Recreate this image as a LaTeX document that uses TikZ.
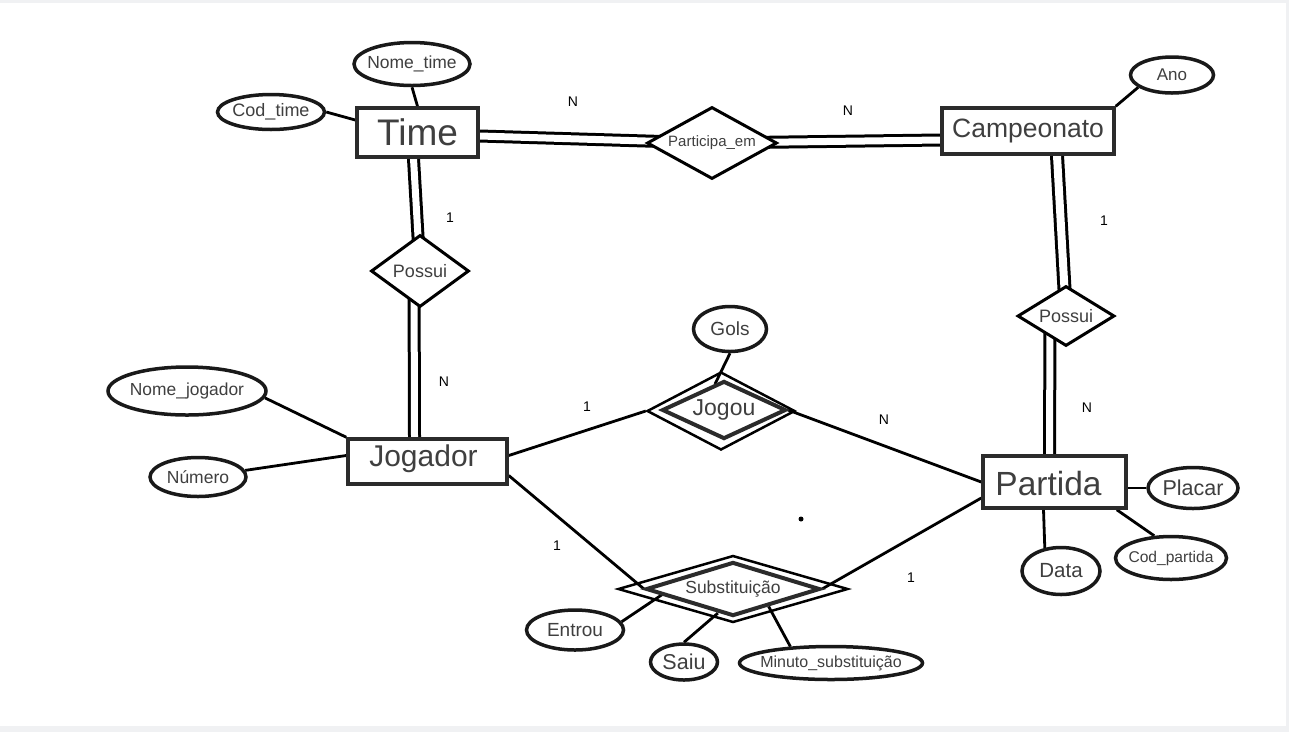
\documentclass[tikz,border=0pt]{standalone}
\usepackage{fontspec}
\setmainfont{Liberation Sans}
\usetikzlibrary{shapes.geometric,backgrounds,calc}
\definecolor{txt}{HTML}{3F3F3F}
\definecolor{edge}{HTML}{2B2B2B}
\definecolor{bgband}{HTML}{F0F1F3}
\begin{document}
\begin{tikzpicture}[x=1pt,y=-1pt,
  fs/.style={font=\fontsize{#1}{#1}\selectfont},
  ent/.style={rectangle, draw=edge, line width=3.5pt, fill=white, inner sep=0pt, text=txt},
  att/.style={ellipse, draw=black!90, line width=3.5pt, fill=white, inner sep=0pt},
  rel/.style={diamond, draw=black, line width=3pt, fill=white, inner sep=0pt},
  relout/.style={diamond, draw=black, line width=2.5pt, inner sep=0pt},
  relin/.style={diamond, draw=edge, line width=4pt, fill=white, inner sep=0pt},
  tl/.style={text=txt, fs=#1},
  con/.style={draw=black, line width=2.8pt},
  dbl/.style={draw=black, line width=3pt, double=white, double distance=7pt},
  card/.style={fs=14, text=black, inner sep=0pt}]
\useasboundingbox (0,0) rectangle (1289,732);

% entities
\node[ent, minimum width=121pt, minimum height=49pt, fs=37] (Time) at (417.5,132.5) {Time};
\node[ent, minimum width=172pt, minimum height=46pt, fs=26.5] (Campeo) at (1028,131) {Campeonato};
\node[ent, minimum width=159pt, minimum height=45pt] (Jogador) at (427.5,461.5) {};
\node[tl=30] (JogadorT) at (423.5,459) {Jogador};
\node[ent, minimum width=143pt, minimum height=52pt] (Partida) at (1054.5,482) {};
\node[tl=33.5] (PartidaT) at (1048.5,484) {Partida};

% relationships
\node[rel, minimum width=130pt, minimum height=72pt, label={[tl=15]center:Participa\_em}] (Part) at (712,143) {};
\node[rel, minimum width=98pt, minimum height=72pt, label={[tl=18]center:Possui}] (PossuiT) at (420,271) {};
\node[rel, minimum width=97pt, minimum height=60pt, label={[tl=18]center:Possui}] (PossuiC) at (1066,316) {};
\node[relout, minimum width=148pt, minimum height=78pt] (JogouO) at (721,411) {};
\node[relin, minimum width=124pt, minimum height=58pt, label={[tl=23]center:Jogou}] (Jogou) at (724,410) {};
\node[relout, minimum width=230pt, minimum height=67pt] (SubstO) at (733,589) {};
\node[relin, minimum width=174pt, minimum height=54pt, label={[tl=17.5]center:Substituição}] (Subst) at (733,589) {};

% attributes
\node[att, minimum width=116pt, minimum height=43pt, label={[tl=17.5]center:Nome\_time}] (Nomet) at (412,64) {};
\node[att, minimum width=107pt, minimum height=35pt, label={[tl=18]center:Cod\_time}] (Codt) at (271,112) {};
\node[att, minimum width=83pt, minimum height=36pt, label={[tl=17]center:Ano}] (Ano) at (1172,75) {};
\node[att, minimum width=73pt, minimum height=45pt, label={[tl=19]center:Gols}] (Gols) at (730,329) {};
\node[att, minimum width=158pt, minimum height=48pt, label={[tl=17.4]center:Nome\_jogador}] (NomeJ) at (187,391) {};
\node[att, minimum width=96pt, minimum height=39pt, label={[tl=17.5]center:Número}] (Numero) at (198,477) {};
\node[att, minimum width=90pt, minimum height=41pt, label={[tl=21.5]center:Placar}] (Placar) at (1193,488) {};
\node[att, minimum width=111pt, minimum height=43pt, label={[tl=15.6]center:Cod\_partida}] (Codp) at (1171,558) {};
\node[att, minimum width=78pt, minimum height=47pt, label={[tl=20.5]center:Data}] (Data) at (1061,571) {};
\node[att, minimum width=97pt, minimum height=40pt, label={[tl=19]center:Entrou}] (Entrou) at (575,630) {};
\node[att, minimum width=67pt, minimum height=36pt, label={[tl=21.5]center:Saiu}] (Saiu) at (684,662) {};
\node[att, minimum width=183pt, minimum height=33pt, label={[tl=16]center:Minuto\_substituição}] (Minuto) at (831,663) {};

% cardinalities
\node[card] (c1) at (573,102) {N};
\node[card] (c2) at (848,111) {N};
\node[card] (c3) at (450,218) {1};
\node[card] (c4) at (444,382) {N};
\node[card] (c5) at (1104,221) {1};
\node[card] (c6) at (1087,408) {N};
\node[card] (c7) at (587,407) {1};
\node[card] (c8) at (884,420) {N};
\node[card] (c9) at (557,546) {1};
\node[card] (c10) at (911,578) {1};
\node[circle, fill=black, minimum size=5pt, inner sep=0pt] (dot) at (801,519) {};

\begin{pgfonlayer}{background}
  \fill[bgband] (0,0) rectangle (1289,732);
  \fill[white] (0,3) rectangle (1286,726);
  % double connectors
  \draw[dbl] ([yshift=-3.5pt]Time.east) -- (Part.center);
  \draw[dbl] (Part.center) -- ([yshift=-9pt]Campeo.west);
  \draw[dbl] ([xshift=-4pt]Time.south) -- (PossuiT.center);
  \draw[dbl] ([xshift=-6pt]PossuiT.center) -- ([xshift=-13pt]Jogador.north);
  \draw[dbl, double distance=8pt] ([xshift=29pt]Campeo.south) -- (PossuiC.center);
  \draw[dbl] ([xshift=-16pt]PossuiC.center) -- ([xshift=-5pt]Partida.north);
  % single connectors
  \draw[con] (Codt.east) -- ([yshift=12.5pt]Time.west);
  \draw[con] (Nomet.south) -- (Time.north);
  \draw[con] (Ano.200) -- (Campeo.north east);
  \draw[con] (NomeJ.-5) -- (Jogador.north west);
  \draw[con] (Numero.8) -- ([yshift=6pt]Jogador.west);
  \draw[con] ([yshift=6pt]Jogador.east) -- (JogouO.west);
  \draw[con] (Jogou.east) -- (Partida.west);
  \draw[con] ([yshift=-14pt]Jogador.east) -- (Subst.west);
  \draw[con] ([yshift=-16pt]Partida.west) -- (Subst.east);
  \draw[con] (Gols.south) -- ([xshift=-9pt,yshift=-5pt]Jogou.north);
  \draw[con] (Entrou.10) -- ($(Subst.west)!0.2!(Subst.south)$);
  \draw[con] (Saiu.north) -- ($(Subst.south)!0.17!(Subst.west)$);
  \draw[con] (Minuto.158) -- ($(Subst.south)!0.4!(Subst.east)$);
  \draw[con] (Placar.west) -- (Partida.east |- Placar.west);
  \draw[con] ([xshift=-11pt]Partida.south east) -- (Codp.127);
  \draw[con] ([xshift=-11pt]Partida.south) -- (Data.125);
\end{pgfonlayer}
\end{tikzpicture}
\end{document}
